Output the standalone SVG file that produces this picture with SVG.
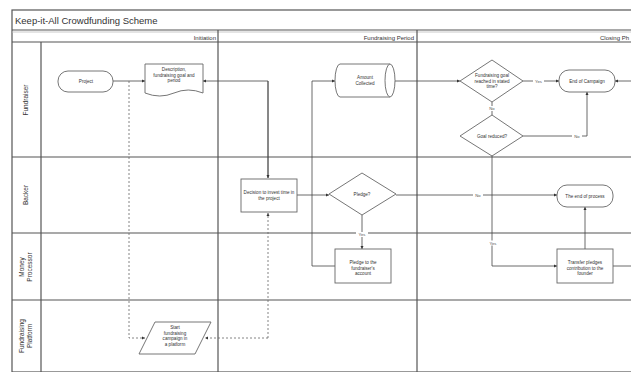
<svg xmlns="http://www.w3.org/2000/svg" width="631" height="372" viewBox="0 0 631 372">
<style>
.frame{fill:none;stroke:#555;stroke-width:1.2}
.lite{fill:none;stroke:#bbb;stroke-width:0.8}
.shape{fill:#fff;stroke:#666;stroke-width:0.9}
.t{font-family:"Liberation Sans",Arial,sans-serif;font-size:4.6px;fill:#333;text-anchor:middle}
.lane{font-family:"Liberation Sans",Arial,sans-serif;font-size:6.5px;fill:#333;text-anchor:middle}
.phase{font-family:"Liberation Sans",Arial,sans-serif;font-size:6px;fill:#333;text-anchor:end}
.lbl{font-family:"Liberation Sans",Arial,sans-serif;font-size:4.2px;fill:#555;text-anchor:middle}
.c{fill:none;stroke:#444;stroke-width:0.8}
.d{fill:none;stroke:#666;stroke-width:0.8;stroke-dasharray:2,2}
</style>
<defs>
<marker id="ah" viewBox="0 0 10 10" refX="10" refY="5" markerWidth="4" markerHeight="4" orient="auto"><path d="M0,0 L10,5 L0,10 Z" fill="#333"/></marker>
</defs>
<rect width="631" height="372" fill="#fff"/>
<g id="pool">
<rect x="12" y="10" width="625" height="362" class="frame"/>
<line x1="12" y1="30" x2="631" y2="30" class="frame"/>
<line x1="12" y1="42" x2="631" y2="42" class="frame"/>
<line x1="12" y1="32" x2="631" y2="32" class="lite"/>
<line x1="41" y1="42" x2="41" y2="372" class="frame"/>
<line x1="218" y1="30" x2="218" y2="372" class="frame"/>
<line x1="417" y1="30" x2="417" y2="372" class="frame"/>
<line x1="12" y1="157" x2="631" y2="157" class="frame"/>
<line x1="12" y1="233" x2="631" y2="233" class="frame"/>
<line x1="12" y1="300" x2="631" y2="300" class="frame"/>
<text x="15" y="24" font-family="Liberation Sans, Arial, sans-serif" font-size="9.5" fill="#333">Keep-it-All Crowdfunding Scheme</text>
<text x="216" y="39.5" class="phase">Initiation</text>
<text x="414" y="39.5" class="phase">Fundraising Period</text>
<text x="629" y="39.5" class="phase">Closing Ph</text>
<text transform="translate(28,100) rotate(-90)" class="lane">Fundraiser</text>
<text transform="translate(28,195) rotate(-90)" class="lane">Backer</text>
<text transform="translate(24,267) rotate(-90)" class="lane">Money<tspan x="0" dy="8">Processor</tspan></text>
<text transform="translate(24,336) rotate(-90)" class="lane">Fundraising<tspan x="0" dy="8">Platform</tspan></text>
</g>
<g id="connectors">
<path d="M113,81 H145" class="c" marker-end="url(#ah)"/>
<path d="M268,178 V81 H203" class="c" marker-end="url(#ah)"/>
<path d="M268,81 V178" class="c" marker-end="url(#ah)"/>
<path d="M129,81 V338 H145" class="d" marker-end="url(#ah)"/>
<path d="M268,338 V213" class="d" marker-end="url(#ah)"/>
<path d="M268,338 H205" class="d" marker-end="url(#ah)"/>
<path d="M297,195 H329" class="c" marker-end="url(#ah)"/>
<path d="M335,266 H312 V81 H335" class="c" marker-end="url(#ah)"/>
<path d="M395,81 H460" class="c" marker-end="url(#ah)"/>
<path d="M523,81 H559" class="c" marker-end="url(#ah)"/>
<path d="M492,102 V115" class="c"/>
<path d="M523,136 H587 V92" class="c" marker-end="url(#ah)"/>
<path d="M492,155 V266 H557" class="c" marker-end="url(#ah)"/>
<path d="M396,195 H557" class="c" marker-end="url(#ah)"/>
<path d="M362,215 V249" class="c" marker-end="url(#ah)"/>
<path d="M585,249 V207" class="c" marker-end="url(#ah)"/>
<path d="M613,266 H640 V81 H615" class="c" marker-end="url(#ah)"/>
<rect x="533" y="78.5" width="11" height="5" fill="#fff"/><text x="538.5" y="82.5" class="lbl">Yes</text>
<rect x="487" y="106" width="10" height="5" fill="#fff"/><text x="492" y="110" class="lbl">No</text>
<rect x="572" y="133.5" width="10" height="5" fill="#fff"/><text x="577" y="137.5" class="lbl">No</text>
<rect x="487" y="240.5" width="12" height="5" fill="#fff"/><text x="493" y="244.5" class="lbl">Yes</text>
<rect x="473" y="192.5" width="10" height="5" fill="#fff"/><text x="478" y="196.5" class="lbl">No</text>
<rect x="356" y="232" width="12" height="5" fill="#fff"/><text x="362" y="236" class="lbl">Yes</text>
</g>
<g id="project"><rect x="58" y="71" width="55" height="21" rx="10" class="shape"/><text x="86" y="83" class="t">Project</text></g>
<g id="description"><path d="M145,64 H203 V93 Q188,87 174,93 T145,93 Z" class="shape"/><text x="174" y="71" class="t">Description,<tspan x="174" dy="5.5">fundraising goal and</tspan><tspan x="174" dy="5.5">period</tspan></text></g>
<g id="decision"><rect x="241" y="179" width="56" height="33" class="shape"/><text x="269" y="194" class="t">Decision to invest time in<tspan x="269" dy="5.5">the project</tspan></text></g>
<g id="campaign"><path d="M155,322 H211 L195,354 H139 Z" class="shape"/><text x="175" y="329" class="t">Start<tspan x="175" dy="5.5">fundraising</tspan><tspan x="175" dy="5.5">campaign in</tspan><tspan x="175" dy="5.5">a platform</tspan></text></g>
<g id="amount"><path d="M340,64 H390 A5,16.5 0 0 1 390,97 H340 A5,16.5 0 0 1 340,64 Z" class="shape"/><path d="M390,64 A5,16.5 0 0 0 390,97" class="shape"/><text x="365" y="79" class="t">Amount<tspan x="365" dy="5.5">Collected</tspan></text></g>
<g id="pledge-q"><path d="M362,173 L396,194 L362,215 L329,194 Z" class="shape"/><text x="362" y="196" class="t">Pledge?</text></g>
<g id="pledge-account"><rect x="335" y="249" width="56" height="34" class="shape"/><text x="363" y="264" class="t">Pledge to the<tspan x="363" dy="5.5">fundraiser's</tspan><tspan x="363" dy="5.5">account</tspan></text></g>
<g id="goal-q"><path d="M492,60 L523,81 L492,102 L460,81 Z" class="shape"/><text x="492" y="77" class="t">Fundraising goal<tspan x="492" dy="5.5">reached in stated</tspan><tspan x="492" dy="5.5">time?</tspan></text></g>
<g id="reduced-q"><path d="M492,115 L523,136 L492,156 L460,136 Z" class="shape"/><text x="492" y="138" class="t">Goal reduced?</text></g>
<g id="end"><rect x="559" y="70" width="56" height="22" rx="10" class="shape"/><text x="587" y="83" class="t">End of Campaign</text></g>
<g id="backer-end"><rect x="557" y="185" width="56" height="22" rx="10" class="shape"/><text x="585" y="198" class="t">The end of process</text></g>
<g id="transfer"><rect x="557" y="249" width="56" height="34" class="shape"/><text x="585" y="264" class="t">Transfer pledges<tspan x="585" dy="5.5">contribution to the</tspan><tspan x="585" dy="5.5">founder</tspan></text></g>
</svg>
